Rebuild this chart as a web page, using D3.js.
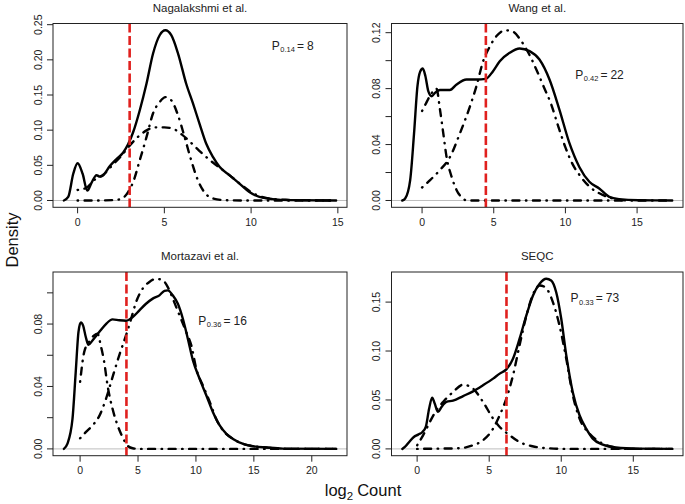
<!DOCTYPE html>
<html><head><meta charset="utf-8">
<script src="https://cdn.jsdelivr.net/npm/d3@7"></script>
<style>
body{margin:0;background:#fff}
svg{display:block;font-family:"Liberation Sans",Arial,Helvetica,sans-serif}
</style>
</head><body>
<svg id="c" width="685" height="504"></svg>
<script>
// ---------------- DATA ----------------
const titles = ["Nagalakshmi et al.", "Wang et al.", "Mortazavi et al.", "SEQC"];
const cutoffs = [3.0, 4.45, 4.0, 6.2];
const annoSub = ["0.14", "0.42", "0.36", "0.33"];
const annoVal = ["8", "22", "16", "73"];
const annoX = [12.4, 12.38, 12.3, 12.33];
const annoY = [0.2145, 0.0869, 0.0796, 0.150];

// Nagalakshmi et al.
const nagSolidX = [-0.79,-0.54,-0.25,0.0,0.29,0.56,0.8,1.09,1.28,1.48,1.86,2.24,2.62,2.91,3.2,3.58,3.97,4.35,4.73,5.06,5.40,5.79,6.26,6.65,7.03,7.41,7.8,8.18,8.75,9.33,9.9,10.48,11.25,12.2,14.9];
const nagSolidY = [0,0.005,0.038,0.053,0.038,0.014,0.025,0.036,0.034,0.036,0.049,0.059,0.068,0.080,0.097,0.128,0.166,0.209,0.235,0.242,0.235,0.209,0.166,0.138,0.109,0.081,0.062,0.048,0.036,0.024,0.012,0.005,0.002,0.0005,0];
const nagLowX = [0,0.5,1.0,1.5,2.0,2.5,3.0,3.5,4.0,4.5,5.0,5.5,6.0,6.5,7.0,7.5,8.0,8.5,9.0,9.5,10.0,10.5,11.0,12.0,13.0,14.8];
const nagLowY = [0.015,0.018,0.030,0.037,0.050,0.063,0.078,0.091,0.100,0.104,0.104,0.102,0.094,0.083,0.071,0.060,0.050,0.041,0.031,0.021,0.012,0.006,0.003,0.001,0.0003,0];
const nagHighX = [0,1.0,2.0,2.5,2.91,3.2,3.58,3.97,4.35,4.73,5.06,5.4,5.79,6.17,6.55,6.93,7.3,7.8,8.5,10,14.8];
const nagHighY = [0,0,0.0005,0.002,0.012,0.026,0.057,0.090,0.124,0.140,0.147,0.1425,0.121,0.090,0.057,0.029,0.012,0.003,0.0005,0,0];
const nagXTicks = [0,5,10,15];
const nagYTicks = [0,0.05,0.10,0.15,0.20,0.25];
const nagYLabels = [0,0.05,0.10,0.15,0.20,0.25];

// Wang et al.
const wangSolidX = [-1.38,-1.18,-0.83,-0.56,-0.32,-0.14,0.05,0.23,0.44,0.67,0.9,1.25,1.94,2.41,3.1,3.8,4.44,4.95,5.42,6.11,6.81,7.5,8.19,8.89,9.58,10.28,10.97,11.67,12.36,13.06,13.75,15.1,17.45];
const wangSolidY = [0,0.0014,0.0146,0.048,0.082,0.092,0.0944,0.089,0.078,0.0745,0.077,0.079,0.079,0.083,0.0865,0.0865,0.087,0.0925,0.0996,0.1056,0.1087,0.1068,0.1008,0.0865,0.065,0.041,0.024,0.0134,0.0086,0.0026,0.001,0.0002,0];
const wangLowX = [0,0.3,0.6,1.0,1.25,1.48,1.71,2.06,2.41,2.87,3.1,8,14];
const wangLowY = [0.064,0.070,0.0757,0.080,0.065,0.048,0.031,0.017,0.0074,0.0014,0,0,0];
const wangHighX = [0,0.56,1.25,1.94,2.64,3.33,3.8,4.26,4.72,5.19,5.81,6.34,6.92,7.5,8.0,8.5,9.0,9.5,10.0,10.5,11.0,11.67,12.59,13.5,14.4,17.45];
const wangHighY = [0.0093,0.0146,0.0218,0.031,0.048,0.067,0.082,0.0996,0.110,0.1176,0.1217,0.1207,0.114,0.104,0.093,0.081,0.069,0.053,0.038,0.026,0.018,0.010,0.004,0.001,0,0];
const wangXTicks = [0,5,10,15];
const wangYTicks = [0,0.02,0.04,0.06,0.08,0.10,0.12];
const wangYLabels = [0,0.04,0.08,0.12];

// Mortazavi et al.
const morSolidX = [-1.4,-1.1,-0.66,-0.38,-0.14,0.06,0.26,0.49,0.72,1.07,1.65,2.23,2.8,3.38,3.96,4.54,5.12,5.69,6.27,6.85,7.28,7.57,8.0,8.44,8.87,9.3,9.74,10.32,10.9,11.47,12.05,12.63,13.2,14.08,14.94,16.1,17.5,22.1];
const morSolidY = [0,0.0032,0.019,0.049,0.075,0.081,0.079,0.0717,0.0667,0.0695,0.0749,0.080,0.083,0.0824,0.0821,0.0845,0.0888,0.093,0.0963,0.0984,0.1013,0.1016,0.0984,0.093,0.0834,0.0706,0.0567,0.0449,0.0342,0.0235,0.015,0.0096,0.0064,0.0032,0.0017,0.0009,0.0002,0];
const morLowX = [0,0.35,0.72,1.21,1.5,1.79,2.08,2.37,2.8,3.24,3.67,4.1,4.54,5.1,22.1];
const morLowY = [0.043,0.062,0.068,0.0727,0.0738,0.066,0.0556,0.0406,0.0257,0.015,0.0075,0.002,0.0004,0,0];
const morHighX = [0,0.49,1.07,1.65,2.23,2.8,3.38,3.96,4.39,4.83,5.4,5.98,6.56,7.14,7.57,8.0,8.58,9.16,9.6,10.03,10.6,11.2,11.76,12.34,13.2,14.37,16.1,17.8,22.1];
const morHighY = [0.0068,0.0107,0.015,0.021,0.032,0.046,0.060,0.0727,0.083,0.094,0.1027,0.107,0.109,0.108,0.1037,0.0963,0.0856,0.0749,0.0663,0.0513,0.0406,0.030,0.019,0.0118,0.0064,0.0026,0.0009,0,0];
const morXTicks = [0,5,10,15,20];
const morYTicks = [0,0.02,0.04,0.06,0.08,0.10];
const morYLabels = [0,0.04,0.08];

// SEQC
const seqSolidX = [-1.03,-0.85,-0.51,-0.23,0.07,0.37,0.6,0.83,1.04,1.22,1.45,1.69,2.03,2.49,3.19,3.88,4.57,5.27,5.73,6.19,6.65,7.11,7.58,8.04,8.5,8.96,9.3,9.65,10.0,10.35,10.8,11.27,11.73,12.19,12.89,13.8,15.4,17.7];
const seqSolidY = [0,0.002,0.0078,0.0122,0.0146,0.0173,0.0224,0.041,0.0524,0.0463,0.0378,0.0429,0.048,0.0493,0.054,0.0588,0.065,0.0718,0.0769,0.0813,0.0922,0.1126,0.1364,0.1568,0.1687,0.1738,0.172,0.160,0.133,0.0956,0.058,0.0344,0.0207,0.0105,0.0044,0.0014,0.0003,0];
const seqLowX = [0,0.42,0.88,1.34,1.8,2.49,3.19,3.88,4.57,5.27,5.73,6.42,7.1,8.0,9.0,10.5,17.7];
const seqLowY = [0.0037,0.014,0.0275,0.0395,0.048,0.058,0.0656,0.0616,0.048,0.031,0.0224,0.014,0.007,0.0027,0.0007,0,0];
const seqHighX = [0,1.57,2.96,3.88,4.57,5.27,5.73,6.19,6.65,7.11,7.58,8.04,8.5,8.9,9.42,9.88,10.35,10.8,11.27,11.96,12.66,13.58,14.7,17.7];
const seqHighY = [0,0.0003,0.0007,0.0037,0.0088,0.0207,0.0344,0.0514,0.075,0.106,0.136,0.158,0.167,0.165,0.150,0.126,0.092,0.055,0.031,0.0156,0.0071,0.002,0,0];
const seqXTicks = [0,5,10,15];
const seqYTicks = [0,0.05,0.10,0.15];
const seqYLabels = [0,0.05,0.10,0.15];

// ---------------- LAYOUT ----------------
const boxes = [
  {l:53, t:23.5, r:347, b:207.3},
  {l:391.5, t:23.5, r:683, b:207.3},
  {l:53, t:272, r:347, b:455.7},
  {l:391.5, t:272, r:683, b:455.7}
];
const zip = (xs, ys) => xs.map((x,i) => ({x, y: ys[i]}));
const panels = [
  {solid: zip(nagSolidX,nagSolidY), low: zip(nagLowX,nagLowY), high: zip(nagHighX,nagHighY), xt: nagXTicks, yt: nagYTicks, yl: nagYLabels},
  {solid: zip(wangSolidX,wangSolidY), low: zip(wangLowX,wangLowY), high: zip(wangHighX,wangHighY), xt: wangXTicks, yt: wangYTicks, yl: wangYLabels},
  {solid: zip(morSolidX,morSolidY), low: zip(morLowX,morLowY), high: zip(morHighX,morHighY), xt: morXTicks, yt: morYTicks, yl: morYLabels},
  {solid: zip(seqSolidX,seqSolidY), low: zip(seqLowX,seqLowY), high: zip(seqHighX,seqHighY), xt: seqXTicks, yt: seqYTicks, yl: seqYLabels}
];

const svg = d3.select("#c");
svg.append("rect").attr("width",685).attr("height",504).attr("fill","#fff");
const fmt = d3.format(".2f");

panels.forEach((p, i) => {
  const bx = boxes[i];
  const all = p.solid.concat(p.low, p.high);
  const [x0, x1] = d3.extent(p.solid, d => d.x);
  const xpad = 0.04 * (x1 - x0);
  const ymax = d3.max(all, d => d.y);
  const ypad = 0.04 * ymax;
  const x = d3.scaleLinear().domain([x0 - xpad, x1 + xpad]).range([bx.l, bx.r]);
  const y = d3.scaleLinear().domain([0 - ypad, ymax + ypad]).range([bx.b, bx.t]);
  const g = svg.append("g");

  const clipId = "clip" + i;
  svg.append("clipPath").attr("id", clipId).append("rect")
    .attr("x", bx.l).attr("y", bx.t).attr("width", bx.r - bx.l).attr("height", bx.b - bx.t);
  const pg = g.append("g").attr("clip-path", `url(#${clipId})`);

  // zero reference line
  pg.append("line").attr("x1", bx.l).attr("x2", bx.r)
    .attr("y1", y(0)).attr("y2", y(0))
    .attr("stroke", "#bebebe").attr("stroke-width", 1);

  const line = d3.line().x(d => x(d.x)).y(d => y(d.y)).curve(d3.curveMonotoneX);

  pg.append("path").attr("d", line(p.solid)).attr("fill","none")
    .attr("stroke","#000").attr("stroke-width",2.4).attr("stroke-linejoin","round").attr("stroke-linecap","round");
  [p.low, p.high].forEach(c => {
    pg.append("path").attr("d", line(c)).attr("fill","none")
      .attr("stroke","#000").attr("stroke-width",2.4)
      .attr("stroke-linecap","round")
      .attr("stroke-dasharray","0.5,6.5,7,6.5");
  });

  // cutoff
  pg.append("line").attr("x1", x(cutoffs[i])).attr("x2", x(cutoffs[i]))
    .attr("y1", bx.t).attr("y2", bx.b)
    .attr("stroke", "#e0201e").attr("stroke-width", 2.6)
    .attr("stroke-dasharray", "9,3.5");

  // box
  g.append("rect").attr("x", bx.l).attr("y", bx.t)
    .attr("width", bx.r - bx.l).attr("height", bx.b - bx.t)
    .attr("fill","none").attr("stroke","#222").attr("stroke-width",1);

  // x axis
  p.xt.forEach(v => {
    g.append("line").attr("x1", x(v)).attr("x2", x(v)).attr("y1", bx.b).attr("y2", bx.b + 6)
      .attr("stroke","#222").attr("stroke-width",1);
    g.append("text").attr("x", x(v)).attr("y", bx.b + 18.5)
      .attr("text-anchor","middle").attr("font-size",10.5).attr("fill","#222").text(v);
  });
  // y axis
  p.yt.forEach(v => {
    g.append("line").attr("x1", bx.l - 6).attr("x2", bx.l).attr("y1", y(v)).attr("y2", y(v))
      .attr("stroke","#222").attr("stroke-width",1);
  });
  p.yl.forEach(v => {
    g.append("text").attr("transform", `translate(${bx.l - 11.5},${y(v)}) rotate(-90)`)
      .attr("text-anchor","middle").attr("font-size",10.5).attr("fill","#222").text(fmt(v));
  });

  // title
  g.append("text").attr("x", (bx.l + bx.r) / 2).attr("y", bx.t - 12)
    .attr("text-anchor","middle").attr("font-size",11.5).attr("fill","#222").text(titles[i]);

  // annotation P_sub = val
  const t = g.append("text").attr("x", x(annoX[i])).attr("y", y(annoY[i]))
    .attr("text-anchor","middle").attr("font-size",12).attr("fill","#222");
  t.append("tspan").text("P");
  t.append("tspan").attr("font-size",7.5).attr("dy",2.5).attr("dx",0.5).text(annoSub[i]);
  t.append("tspan").attr("dy",-2.5).attr("dx",2).text("=");
  t.append("tspan").attr("dx",3).text(annoVal[i]);
});

// axis labels
svg.append("text").attr("transform","translate(18,240) rotate(-90)")
  .attr("text-anchor","middle").attr("font-size",16.5).attr("fill","#111").text("Density");
const xl = svg.append("text").attr("x",363).attr("y",496)
  .attr("text-anchor","middle").attr("font-size",16.5).attr("fill","#111");
xl.append("tspan").text("log");
xl.append("tspan").attr("font-size",11.5).attr("dy",4).text("2");
xl.append("tspan").attr("dy",-4).attr("dx",4).text("Count");
</script>
</body></html>
